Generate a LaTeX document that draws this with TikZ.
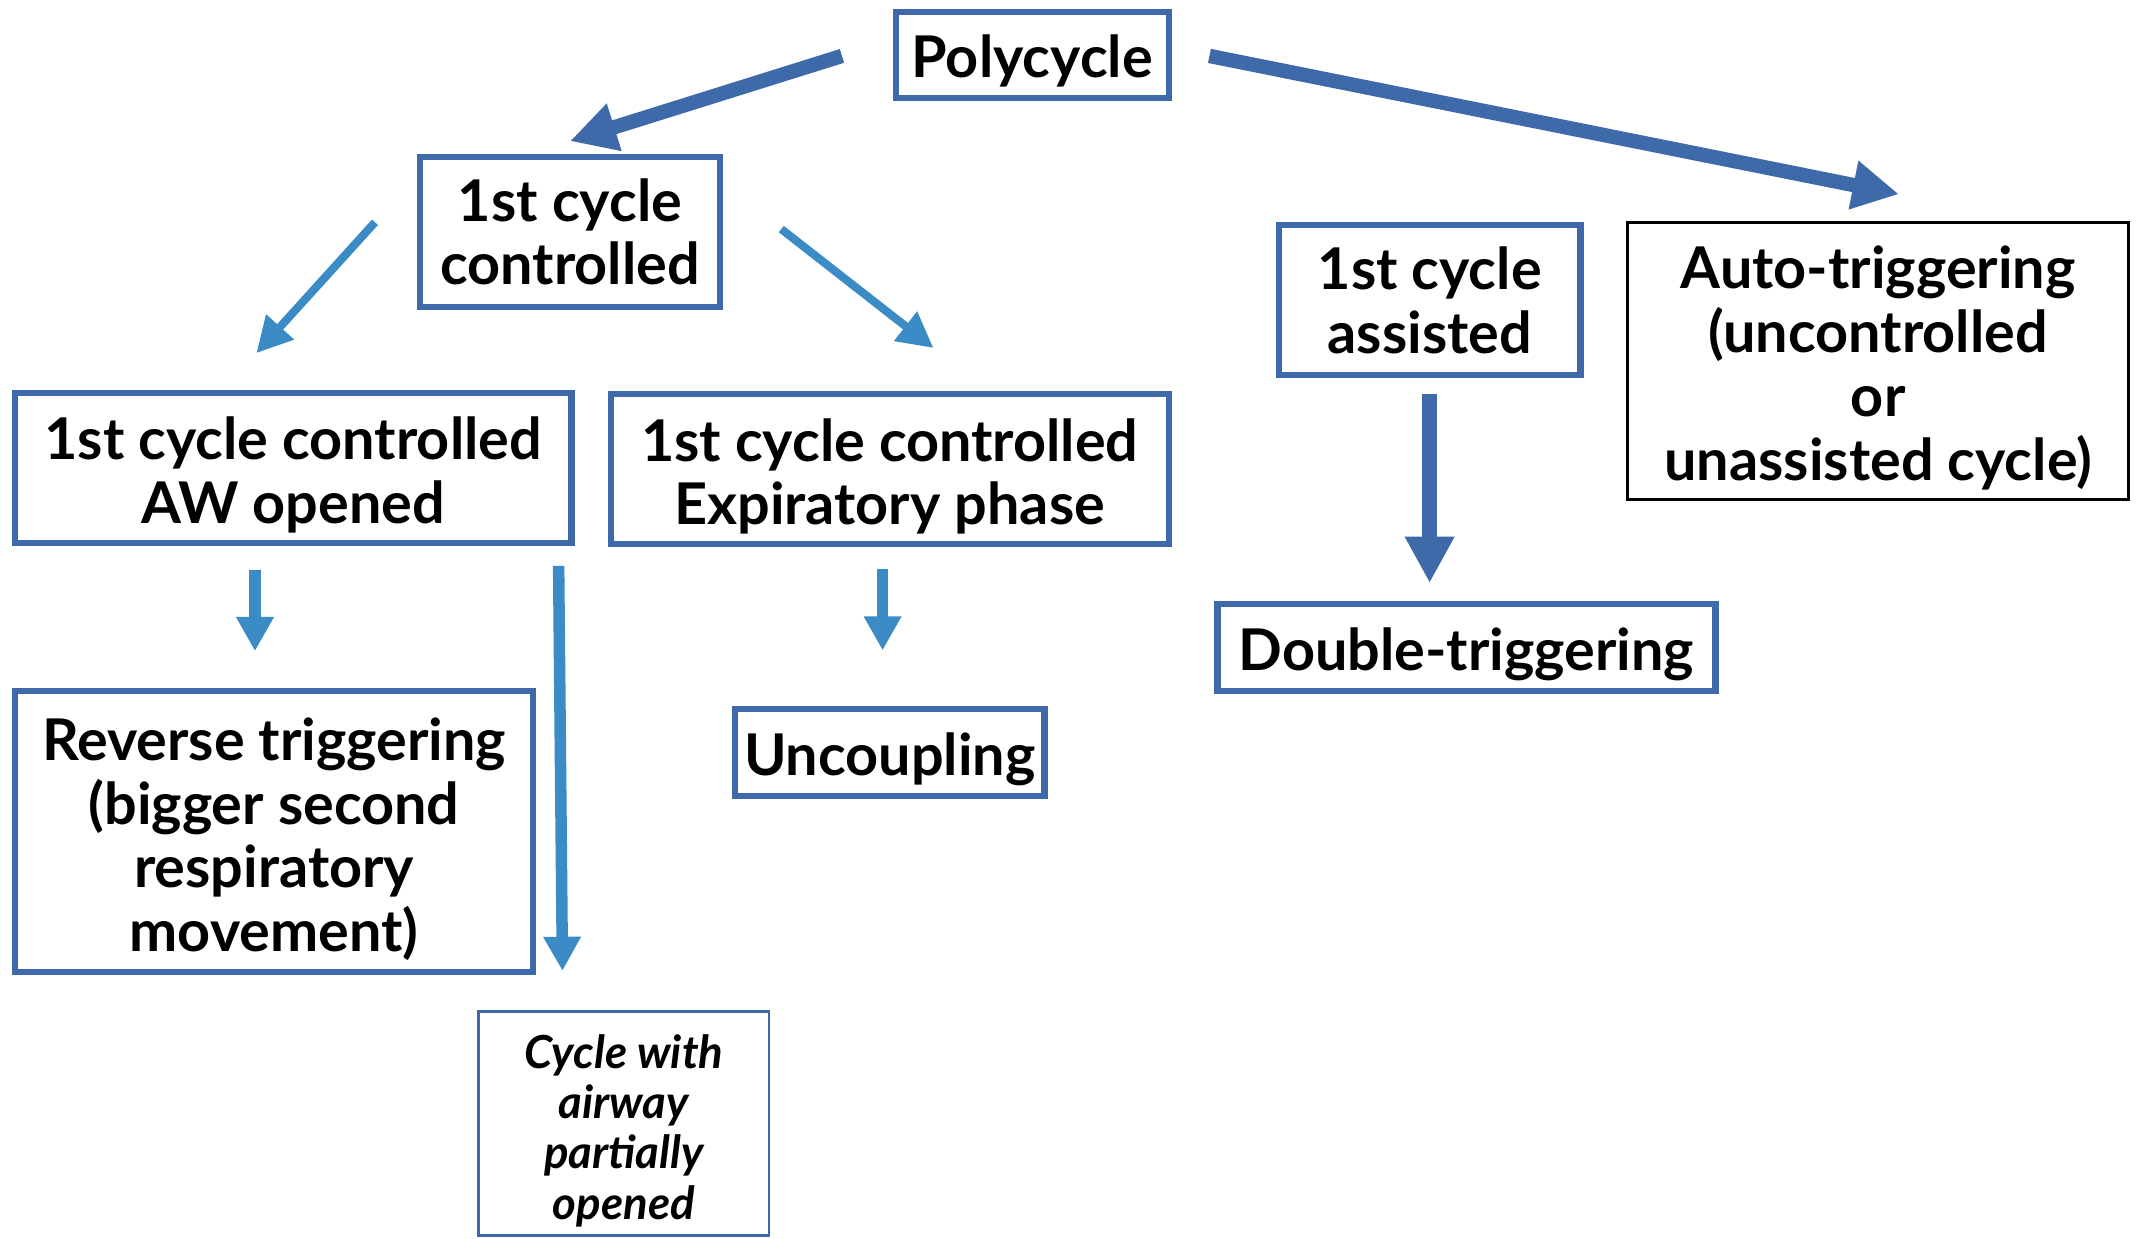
\documentclass[tikz,border=0pt]{standalone}
\usepackage{fontspec}
\setmainfont{Lato}
\usetikzlibrary{arrows.meta}
\definecolor{dkblue}{RGB}{63,106,170}
\definecolor{mdblue}{RGB}{58,139,198}
\newcommand{\mystrut}{\rule{0pt}{12pt}}
\newcommand{\mysmallstrut}{\rule{0pt}{10pt}}
\begin{document}
\begin{tikzpicture}[x=0.01cm,y=-0.01cm,
  box/.style={draw=dkblue,line width=1.3pt,rectangle,inner sep=0pt,align=center,
    font=\bfseries\fontsize{12}{13.3}\selectfont},
  singlebox/.style={box,execute at begin node={\rule{0pt}{11.5pt}}},
  plainbox/.style={draw=black,line width=0.6pt,rectangle,inner sep=0pt,align=center,
    font=\bfseries\fontsize{12}{13.4}\selectfont},
  notebox/.style={draw=dkblue,line width=0.5pt,rectangle,inner sep=0pt,align=center,
    font=\bfseries\itshape\fontsize{9.5}{10.5}\selectfont},
  bigarrow/.style={draw=dkblue,line width=3pt,-{Triangle[length=3.4mm,width=3.4mm]}},
  midarrow/.style={draw=mdblue,line width=1.7pt,-{Triangle[length=2.6mm,width=2.6mm]}},
  vertarrow/.style={draw=mdblue,line width=2.4pt,-{Triangle[length=2.5mm,width=2.6mm]}}
]
\useasboundingbox (0,0) rectangle (1568,908);
% boxes
\node[singlebox,minimum width=2.00cm,minimum height=0.63cm] (poly) at (757,40.5) {Polycycle};
\node[box,minimum width=2.20cm,minimum height=1.10cm] (c1) at (418,170) {1st cycle\\controlled};
\node[box,minimum width=4.08cm,minimum height=1.10cm] (aw) at (215,343) {\mystrut 1st cycle controlled\\AW opened};
\node[box,minimum width=4.09cm,minimum height=1.10cm] (exp) at (652.5,344) {\mystrut 1st cycle controlled\\Expiratory phase};
\node[box,minimum width=2.21cm,minimum height=1.10cm] (asst) at (1048.5,220) {1st cycle\\assisted};
\node[plainbox,minimum width=3.67cm,minimum height=2.03cm] (auto) at (1377.5,264.5) {\mystrut Auto-triggering\\(uncontrolled\\or\\unassisted cycle)};
\node[singlebox,minimum width=3.65cm,minimum height=0.64cm] (dbl) at (1075.5,475) {Double-triggering};
\node[box,minimum width=3.80cm,minimum height=2.06cm] (rev) at (201,610) {\mystrut Reverse triggering\\(bigger second\\respiratory\\movement)};
\node[singlebox,minimum width=2.27cm,minimum height=0.64cm] (unc) at (652.5,552) {Uncoupling};
\node[notebox,minimum width=2.13cm,minimum height=1.64cm] (cyc) at (457.5,824) {\mysmallstrut Cycle with\\airway\\partially\\opened};
% arrow end points
\coordinate (a1s) at (617.5,41);   \coordinate (a1e) at (418,103.5);
\coordinate (a2s) at (887,41);     \coordinate (a2e) at (1392.7,142.4);
\coordinate (a3s) at (275,163);    \coordinate (a3e) at (188,259);
\coordinate (a4s) at (573,168);    \coordinate (a4e) at (684.6,255.2);
\coordinate (a5s) at (187,418);    \coordinate (a5e) at (187,477.5);
\coordinate (a6s) at (409.7,415);  \coordinate (a6e) at (412.5,712);
\coordinate (a7s) at (647.3,417);  \coordinate (a7e) at (647.3,477);
\coordinate (a8s) at (1048.5,288.6); \coordinate (a8e) at (1048.5,427.6);
% arrows
\draw[bigarrow] (a1s) -- (a1e);
\draw[bigarrow] (a2s) -- (a2e);
\draw[bigarrow] (a8s) -- (a8e);
\draw[midarrow] (a3s) -- (a3e);
\draw[midarrow] (a4s) -- (a4e);
\draw[vertarrow] (a5s) -- (a5e);
\draw[vertarrow] (a6s) -- (a6e);
\draw[vertarrow] (a7s) -- (a7e);
\end{tikzpicture}
\end{document}
